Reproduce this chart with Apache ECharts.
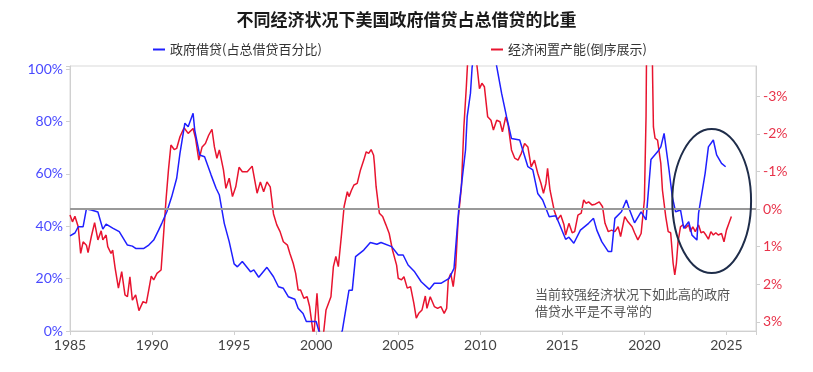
<!DOCTYPE html>
<html><head><meta charset="utf-8">
<script src="https://cdn.jsdelivr.net/npm/echarts@6/dist/echarts.min.js"></script>
<style>html,body{margin:0;padding:0;background:#fff}#c{width:813px;height:372px}</style>
</head><body><div id="c"></div>
<script>
var titleText = '不同经济状况下美国政府借贷占总借贷的比重';
var govName = '政府借贷(占总借贷百分比)';
var slackName = '经济闲置产能(倒序展示)';
var noteText = '当前较强经济状况下如此高的政府\n借贷水平是不寻常的';
var xTicks = [1985, 1990, 1995, 2000, 2005, 2010, 2015, 2020, 2025];
var leftTicks = [0, 20, 40, 60, 80, 100];
var rightTicks = [-3, -2, -1, 0, 1, 2, 3];

var govYears = [1985.0,1985.3,1985.5,1985.8,1986.0,1986.3,1986.7,1987.0,1987.2,1987.6,1988.0,1988.5,1988.8,1989.0,1989.5,1989.8,1990.1,1990.4,1990.6,1990.9,1991.2,1991.5,1991.7,1992.0,1992.2,1992.5,1992.6,1992.9,1993.2,1993.6,1993.9,1994.1,1994.4,1994.7,1995.0,1995.2,1995.5,1996.0,1996.2,1996.5,1997.0,1997.4,1997.7,1998.0,1998.3,1998.7,1998.9,1999.2,1999.4,2000.0,2000.3,2000.8,2001.3,2001.6,2002.0,2002.2,2002.4,2002.9,2003.3,2003.7,2003.95,2004.6,2005.0,2005.3,2005.6,2006.0,2006.4,2006.9,2007.2,2007.6,2008.1,2008.4,2008.7,2009.1,2009.2,2009.4,2009.5,2010.0,2010.5,2011.0,2011.3,2011.6,2011.9,2012.4,2012.9,2013.2,2013.5,2013.8,2014.2,2014.6,2014.8,2015.2,2015.4,2015.7,2016.1,2016.6,2016.9,2017.1,2017.4,2017.8,2018.0,2018.2,2018.6,2018.9,2019.1,2019.4,2019.8,2020.1,2020.4,2020.8,2021.0,2021.2,2021.5,2021.7,2021.9,2022.2,2022.4,2022.7,2022.9,2023.2,2023.3,2023.5,2023.7,2023.9,2024.2,2024.4,2024.7,2024.95];
var govShare = [36.3,37.4,39.8,39.8,46.6,46.2,45.4,38.9,40.8,39.3,37.9,32.8,32.4,31.5,31.5,32.8,34.7,38.5,41.2,45.5,51.3,58.3,67.8,79.3,78.0,83.1,76.7,67.2,66.5,59.5,54.5,51.9,41.1,34.1,25.6,24.5,26.5,22.6,23.3,20.5,24.3,20.7,16.9,16.3,13.1,12.1,8.7,6.7,3.6,3.6,-3,-10,-6,0.4,15.6,15.6,28.4,30.9,33.8,33.1,33.8,32.2,29.0,29.0,25.2,22.6,18.8,15.9,18.2,18.2,20.1,23.9,47.4,69.1,81.8,90.7,100.5,125,120,101,90.7,81.8,73.5,72.9,62.7,61.5,52.5,50.0,43.6,44.0,41.1,35.0,35.8,33.5,38.5,41.1,43.0,38.5,34.1,30.3,30.3,43.0,45.5,50.0,46.2,41.3,45.5,42.4,65.5,68.4,70.3,75.4,61.5,51.3,45.5,46.2,39.2,41.7,36.6,34.7,44.9,52.5,60.2,70.3,72.9,67.2,64.0,62.7];

var slackYears = [1985.0,1985.15,1985.3,1985.5,1985.65,1985.8,1986.0,1986.1,1986.3,1986.5,1986.7,1986.9,1987.0,1987.2,1987.3,1987.5,1987.6,1987.75,1987.95,1988.15,1988.35,1988.5,1988.65,1988.8,1989.0,1989.2,1989.45,1989.65,1989.8,1989.95,1990.1,1990.3,1990.55,1990.7,1990.85,1991.0,1991.15,1991.35,1991.5,1991.7,1991.95,1992.2,1992.5,1992.65,1992.85,1993.05,1993.25,1993.45,1993.65,1993.8,1993.95,1994.1,1994.35,1994.5,1994.7,1994.9,1995.1,1995.3,1995.5,1995.8,1996.1,1996.4,1996.6,1996.8,1997.0,1997.2,1997.4,1997.6,1997.8,1998.0,1998.25,1998.4,1998.6,1998.75,1998.9,1999.05,1999.25,1999.45,1999.6,1999.85,2000.05,2000.25,2000.45,2000.6,2000.7,2000.9,2001.05,2001.2,2001.35,2001.55,2001.7,2001.9,2002.0,2002.15,2002.3,2002.5,2002.7,2002.9,2003.05,2003.2,2003.35,2003.5,2003.55,2003.65,2003.85,2004.05,2004.25,2004.45,2004.65,2004.9,2005.0,2005.2,2005.35,2005.55,2005.75,2005.95,2006.1,2006.25,2006.45,2006.65,2006.75,2006.95,2007.2,2007.4,2007.6,2007.8,2007.95,2008.05,2008.2,2008.35,2008.5,2008.65,2008.85,2009.0,2009.15,2009.3,2009.5,2009.7,2009.85,2009.95,2010.1,2010.25,2010.45,2010.65,2010.8,2011.0,2011.2,2011.35,2011.55,2011.7,2011.9,2012.1,2012.3,2012.5,2012.7,2012.9,2013.1,2013.3,2013.5,2013.7,2013.85,2014.0,2014.1,2014.25,2014.5,2014.7,2014.9,2015.1,2015.2,2015.4,2015.6,2015.75,2015.95,2016.15,2016.3,2016.45,2016.6,2016.8,2017.0,2017.25,2017.45,2017.6,2017.8,2018.0,2018.2,2018.4,2018.55,2018.8,2019.0,2019.25,2019.4,2019.6,2019.8,2020.0,2020.1,2020.2,2020.35,2020.5,2020.55,2020.65,2020.8,2021.0,2021.1,2021.3,2021.45,2021.6,2021.75,2021.85,2021.95,2022.05,2022.2,2022.35,2022.5,2022.7,2022.8,2022.95,2023.1,2023.3,2023.45,2023.6,2023.75,2023.9,2024.05,2024.2,2024.35,2024.5,2024.7,2024.85,2025.0,2025.15,2025.3];
var slackGap = [0.16,0.34,0.19,0.47,1.18,0.87,0.96,1.16,0.73,0.36,0.82,0.58,0.82,0.69,1.0,1.18,1.09,1.57,2.1,1.66,2.28,2.33,1.80,2.42,2.28,2.70,2.46,2.50,2.15,1.78,1.88,1.71,1.62,0.69,-0.24,-1.04,-1.70,-1.58,-1.61,-1.92,-2.16,-2.01,-2.14,-1.88,-1.30,-1.65,-1.74,-1.96,-2.12,-1.65,-1.35,-1.57,-1.04,-0.55,-0.82,-0.33,-0.59,-1.11,-0.99,-0.99,-1.14,-0.42,-0.72,-0.46,-0.72,-0.59,0.13,0.42,0.60,0.87,0.96,1.18,1.44,1.71,2.15,2.15,2.37,2.33,2.59,3.4,2.24,3.6,3.3,2.68,2.73,2.33,1.53,1.26,1.53,0.65,-0.06,-0.46,-0.33,-0.50,-0.64,-0.68,-1.04,-1.30,-1.52,-1.48,-1.58,-1.43,-1.2,-0.6,0.11,0.2,0.42,0.65,1.09,1.49,1.84,1.88,1.80,2.10,2.06,2.50,2.90,2.77,2.68,2.31,2.64,2.33,2.59,2.64,2.59,2.77,2.64,1.88,1.71,2.06,1.53,0.29,-0.59,-2.18,-3.25,-4.5,-5.0,-4.2,-3.6,-3.2,-3.34,-3.25,-2.45,-2.36,-2.10,-2.36,-2.32,-2.05,-2.45,-2.23,-1.57,-1.35,-1.30,-1.48,-1.74,-1.65,-1.12,-1.30,-0.95,-0.68,-0.42,-0.68,-1.08,-0.50,0.03,0.29,0.16,0.42,0.69,0.38,0.63,0.60,0.16,0.11,-0.24,-0.15,-0.19,-0.11,-0.13,-0.19,-0.06,0.38,0.60,0.56,0.60,0.47,0.73,0.20,0.34,0.47,0.63,0.82,0.65,-0.24,-2.45,-8,-9,-3.5,-2.18,-1.88,-1.83,-1.21,-0.50,0.20,0.60,0.63,1.44,1.75,1.44,0.87,0.47,0.42,0.51,0.42,0.60,0.47,0.60,0.42,0.63,0.60,0.69,0.80,0.60,0.69,0.63,0.69,0.65,0.87,0.56,0.38,0.20];

// annotation ellipse, in data units (year, left-axis %)
var ellipseCenter = [2024.1, 49.6];
var ellipseHalf = [2.4, 27.5];

function pairs(xs, ys) { return xs.map(function (x, i) { return [x, ys[i]]; }); }

var BLUE = '#1f1fff', RED = '#e8142f', LBLUE = '#4a4aff', LRED = '#e8334a';
var chart = echarts.init(document.getElementById('c'), null, {renderer: 'canvas'});
var axisFont = 'Lato, "Noto Sans", sans-serif';
chart.setOption({
  animation: false,
  title: {text: titleText, left: 'center', top: 6,
    textStyle: {fontFamily: '"Noto Sans CJK SC"', fontSize: 17, fontWeight: 'bold', color: '#1a1a1a'}},
  legend: [
    {data: [govName], left: 148, top: 38, icon: 'rect', itemWidth: 12, itemHeight: 2, itemGap: 10,
      textStyle: {fontFamily: '"Noto Sans CJK SC"', fontSize: 13, color: '#333'}},
    {data: [slackName], left: 486, top: 38, icon: 'rect', itemWidth: 12, itemHeight: 2,
      textStyle: {fontFamily: '"Noto Sans CJK SC"', fontSize: 13, color: '#333'}}
  ],
  grid: {left: 70, right: 57, top: 66, bottom: 41, show: true, borderColor: '#d9d9d9', borderWidth: 1, containLabel: false},
  xAxis: {type: 'value', min: 1985, max: 2026.8, interval: 5,
    axisLine: {lineStyle: {color: '#d0d0d0'}}, axisTick: {show: true, length: 4, lineStyle: {color: '#d0d0d0'}},
    splitLine: {show: false},
    axisLabel: {fontFamily: axisFont, fontSize: 14, color: '#444', margin: 7,
      formatter: function (v) { return xTicks.indexOf(v) >= 0 ? String(v) : ''; }}},
  yAxis: [
    {type: 'value', min: 0, max: 101.15, interval: 20, position: 'left',
      axisLine: {show: true, lineStyle: {color: '#d0d0d0'}}, axisTick: {show: true, length: 4, lineStyle: {color: '#d0d0d0'}},
      splitLine: {show: false},
      axisLabel: {fontFamily: axisFont, fontSize: 14, color: LBLUE, margin: 7,
        formatter: function (v) { return leftTicks.indexOf(v) >= 0 ? v + '%' : ''; }}},
    {type: 'value', min: -3.8, max: 3.24, inverse: true, position: 'right',
      axisLine: {show: true, lineStyle: {color: '#d0d0d0'}},
      axisTick: {show: true, length: 4, customValues: rightTicks, lineStyle: {color: '#d0d0d0'}},
      splitLine: {show: false},
      axisLabel: {fontFamily: axisFont, fontSize: 14, color: LRED, margin: 7, customValues: rightTicks,
        formatter: function (v) { return v + '%'; }}}
  ],
  series: [
    {name: slackName, type: 'line', yAxisIndex: 1, data: pairs(slackYears, slackGap), showSymbol: false, symbol: 'none',
      clip: true, lineStyle: {color: RED, width: 1.5}, itemStyle: {color: RED},
      markLine: {silent: true, symbol: 'none', label: {show: false}, lineStyle: {color: '#999', width: 2, type: 'solid'},
        data: [{yAxis: 0}]}, z: 2},
    {name: govName, type: 'line', yAxisIndex: 0, data: pairs(govYears, govShare), showSymbol: false, symbol: 'none',
      clip: true, lineStyle: {color: BLUE, width: 1.5}, itemStyle: {color: BLUE}, z: 3}
  ]
});
var c = chart.convertToPixel({xAxisIndex: 0, yAxisIndex: 0}, ellipseCenter);
var e = chart.convertToPixel({xAxisIndex: 0, yAxisIndex: 0}, [ellipseCenter[0] + ellipseHalf[0], ellipseCenter[1] + ellipseHalf[1]]);
chart.setOption({graphic: [
  {type: 'ellipse', shape: {cx: c[0], cy: c[1], rx: Math.abs(e[0] - c[0]), ry: Math.abs(c[1] - e[1])},
    style: {fill: 'none', stroke: '#1f2d4a', lineWidth: 2}, z: 10},
  {type: 'text', left: 535, top: 286, style: {text: noteText, fontFamily: '"Noto Sans CJK SC"', fontSize: 13, lineHeight: 17, fill: '#555'}, z: 10}
]});
</script></body></html>
